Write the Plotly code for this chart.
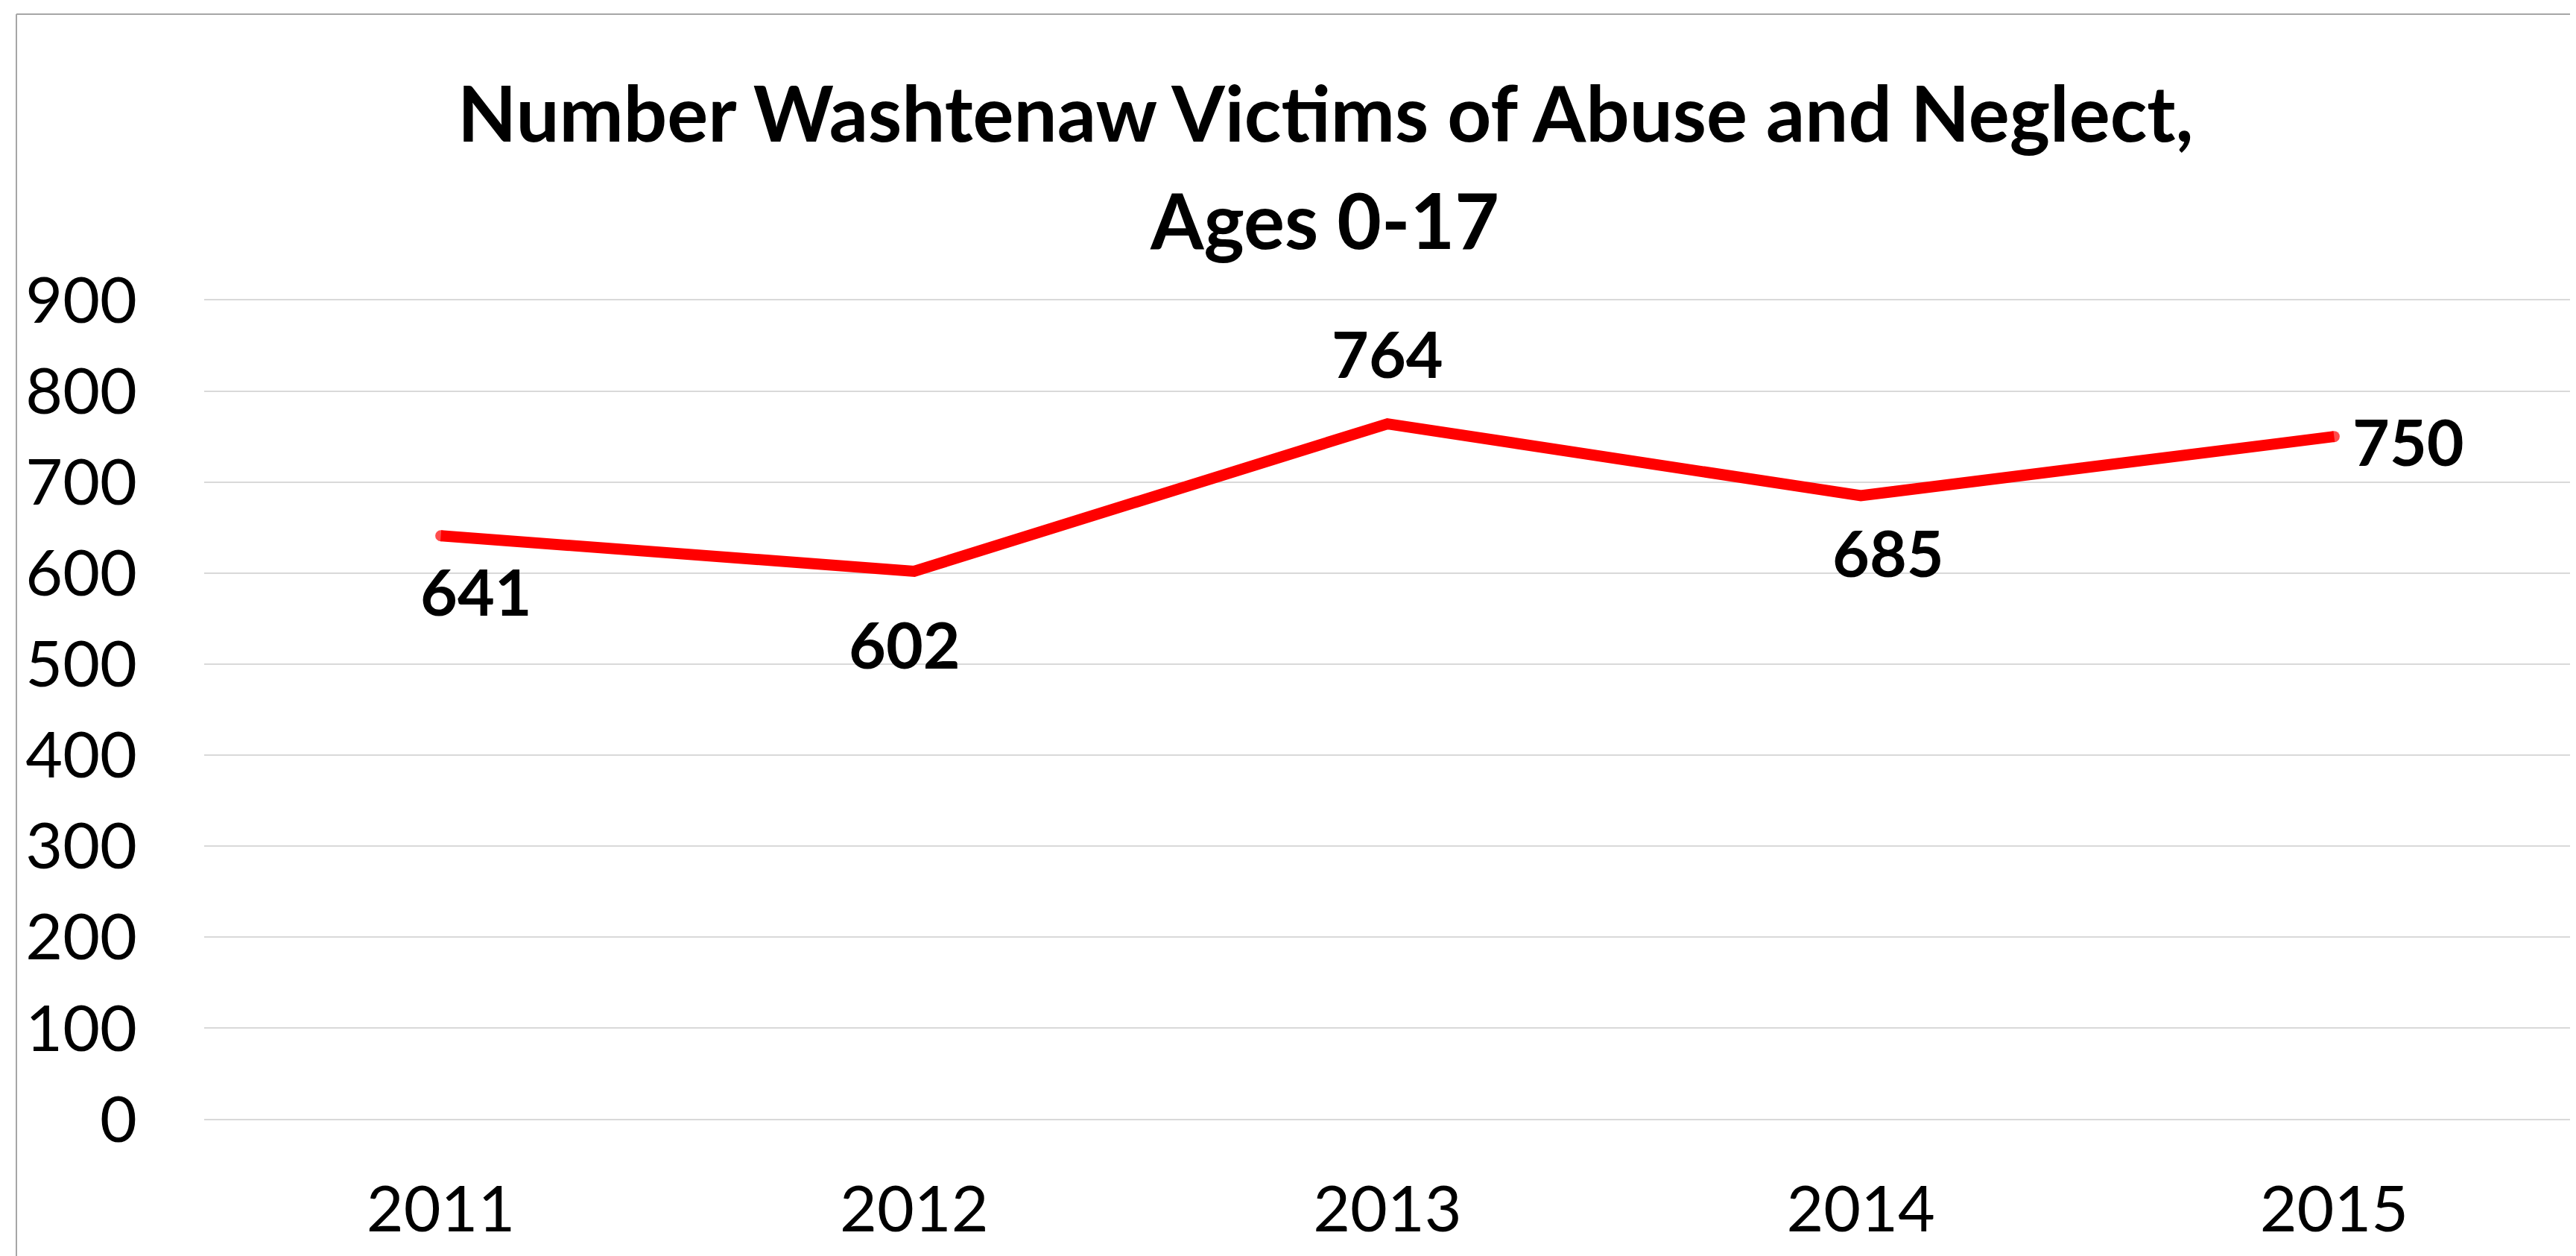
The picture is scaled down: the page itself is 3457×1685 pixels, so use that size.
import plotly.graph_objects as go

# ---- data ----
years = ["2011", "2012", "2013", "2014", "2015"]
victims = [641, 602, 764, 685, 750]
y_ticks = [0, 100, 200, 300, 400, 500, 600, 700, 800, 900]
title_line1 = "Number Washtenaw Victims of Abuse and Neglect,"
title_line2 = "Ages 0-17"

# ---- layout geometry (pixels, in reference-image coordinates) ----
OFF = 8  # page body margin in the browser
W, H = 3457 - OFF, 1685 - OFF
PLOT_X0, PLOT_X1, PLOT_Y0, PLOT_Y1 = 274, 3450, 401, 1503
L = PLOT_X0 - OFF
T = PLOT_Y0 - OFF
R = W - (PLOT_X1 - OFF)
B = H - (PLOT_Y1 - OFF)
PW, PH = PLOT_X1 - PLOT_X0, PLOT_Y1 - PLOT_Y0


def px_x(x):
    return (x - PLOT_X0) / PW


def px_y(y):
    return (PLOT_Y1 - y) / PH


FONT = "Lato"

fig = go.Figure()
fig.add_trace(go.Scatter(
    x=years, y=victims, mode="lines+markers",
    line=dict(color="#FF0000", width=15),
    marker=dict(color="#FF0000", size=[15, 0, 0, 0, 15], line=dict(width=0)),
    hoverinfo="skip", showlegend=False,
))

# data labels (offsets in pixels, styling only)
label_style = [
    dict(xshift=47, yshift=-74, xanchor="center"),
    dict(xshift=-13, yshift=-97, xanchor="center"),
    dict(xshift=0, yshift=95, xanchor="center"),
    dict(xshift=37, yshift=-75, xanchor="center"),
    dict(xshift=23, yshift=-6, xanchor="left"),
]
for i, (v, st) in enumerate(zip(victims, label_style)):
    fig.add_annotation(
        x=i, y=v, xref="x", yref="y", text=f"<b>{v}</b>", showarrow=False,
        yanchor="middle",
        font=dict(family=FONT, size=86, color="black"),
        **st,
    )

# title as two lines
fig.add_annotation(x=px_x(1779), y=px_y(150), xref="paper", yref="paper",
                   text=f"<b>{title_line1}</b>", showarrow=False,
                   xanchor="center", yanchor="middle",
                   font=dict(family=FONT, size=103, color="black"))
fig.add_annotation(x=px_x(1777), y=px_y(294), xref="paper", yref="paper",
                   text=f"<b>{title_line2}</b>", showarrow=False,
                   xanchor="center", yanchor="middle",
                   font=dict(family=FONT, size=103, color="black"))

# chart-area border (left and top edges visible)
border = dict(color="#A6A6A6", width=2)
fig.add_shape(type="line", xref="paper", yref="paper",
              x0=px_x(22), x1=px_x(22), y0=px_y(19), y1=px_y(1700), line=border)
fig.add_shape(type="line", xref="paper", yref="paper",
              x0=px_x(22), x1=px_x(3480), y0=px_y(19), y1=px_y(19), line=border)

fig.update_layout(
    width=W, height=H,
    margin=dict(l=L, r=R, t=T, b=B, pad=0),
    paper_bgcolor="white", plot_bgcolor="white",
    font=dict(family=FONT, color="black"),
    xaxis=dict(
        type="category", range=[-0.5, 4.5], showgrid=False, zeroline=False,
        showline=False, ticks="", tickfont=dict(family=FONT, size=86, color="black"),
        ticklabelstandoff=62,
    ),
    yaxis=dict(
        range=[-1.2, 901.2], tickvals=y_ticks, showgrid=True, gridcolor="#D9D9D9",
        gridwidth=2, zeroline=False, showline=False, ticks="",
        tickfont=dict(family=FONT, size=86, color="black"),
        ticklabelstandoff=89,
    ),
)

fig.write_html("out.html")
